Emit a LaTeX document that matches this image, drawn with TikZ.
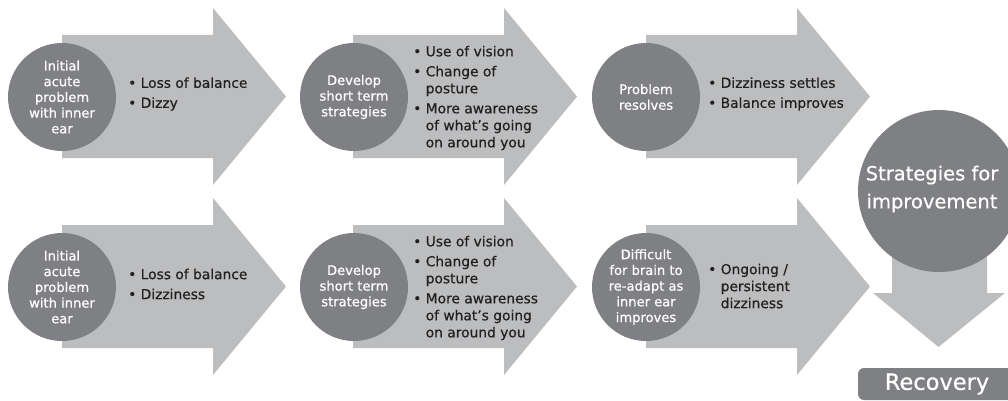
\documentclass[tikz,border=0pt]{standalone}
\usepackage{fontspec}
\setmainfont{DejaVu Sans}[FakeBold=0.5]
\definecolor{circlegrey}{HTML}{7F8083}
\definecolor{arrowgrey}{HTML}{BCBDBF}
\definecolor{inktext}{HTML}{231F20}
\tikzset{
  stage/.style={circle, fill=circlegrey, minimum size=108pt, inner sep=0pt,
    text=white, align=center, font=\fontsize{13.1}{15.7}\selectfont},
  notes/.style={anchor=west, align=left, inner sep=0pt, text=inktext,
    font=\fontsize{13.8}{17}\selectfont},
  bigstage/.style={circle, fill=circlegrey, minimum size=162pt, inner sep=0pt},
  bigtext/.style={text=white, align=center, inner sep=0pt,
    font=\fontsize{19.5}{28}\selectfont},
  endbox/.style={fill=circlegrey, rounded corners=6pt, minimum width=158pt,
    minimum height=32pt, inner sep=0pt, text=white, font=\fontsize{22.5}{26}\selectfont},
  flowarrow/.pic={
    \fill[arrowgrey] (0,-61.5) -- (151,-61.5) -- (151,-88.5) -- (224,0)
      -- (151,88.5) -- (151,61.5) -- (0,61.5) -- cycle;
  },
}
\newcommand\hang{\phantom{\textbullet\ }}
\begin{document}
\begin{tikzpicture}[x=1pt,y=-1pt]
  \useasboundingbox (0,0) rectangle (1008,401);
  \clip (0,0) rectangle (1008,401);

  % arrow bodies, two rows of three
  \foreach \x in {62,353,646}{
    \pic at (\x,96.5) {flowarrow};
    \pic at (\x,286.5) {flowarrow};
  }

  % first row
  \node[stage] (a1) at (62,97) {Initial\\acute\\problem\\with inner\\ear};
  \node[notes] (n1) at (128,94) {\textbullet\ Loss of balance\\[3pt]\textbullet\ Dizzy};
  \node[stage] (a2) at (354,97) {Develop\\short term\\strategies};
  \node[notes] (n2) at (413,98) {\textbullet\ Use of vision\\[3pt]\textbullet\ Change of\\\hang posture\\[3pt]\textbullet\ More awareness\\\hang of what’s going\\\hang on around you};
  \node[stage] (a3) at (646,97) {Problem\\resolves};
  \node[notes] (n3) at (708,94) {\textbullet\ Dizziness settles\\[3pt]\textbullet\ Balance improves};

  % second row
  \node[stage] (b1) at (62,287) {Initial\\acute\\problem\\with inner\\ear};
  \node[notes] (m1) at (128,284) {\textbullet\ Loss of balance\\[3pt]\textbullet\ Dizziness};
  \node[stage] (b2) at (354,287) {Develop\\short term\\strategies};
  \node[notes] (m2) at (413,288) {\textbullet\ Use of vision\\[3pt]\textbullet\ Change of\\\hang posture\\[3pt]\textbullet\ More awareness\\\hang of what’s going\\\hang on around you};
  \node[stage] (b3) at (646,287) {Difficult\\for brain to\\re-adapt as\\inner ear\\improves};
  \node[notes] (m3) at (708,286) {\textbullet\ Ongoing /\\\hang persistent\\\hang dizziness};

  % right-hand column
  \fill[arrowgrey] (892,220) -- (987,220) -- (987,293) -- (1005,293)
    -- (938.5,347) -- (873,293) -- (892,293) -- cycle;
  \node[bigstage] (imp) at (939,191) {};
  \node[bigtext] (imptext) at (932,189) {Strategies for\\improvement};
  \node[endbox] (rec) at (937,384) {Recovery};
\end{tikzpicture}
\end{document}
